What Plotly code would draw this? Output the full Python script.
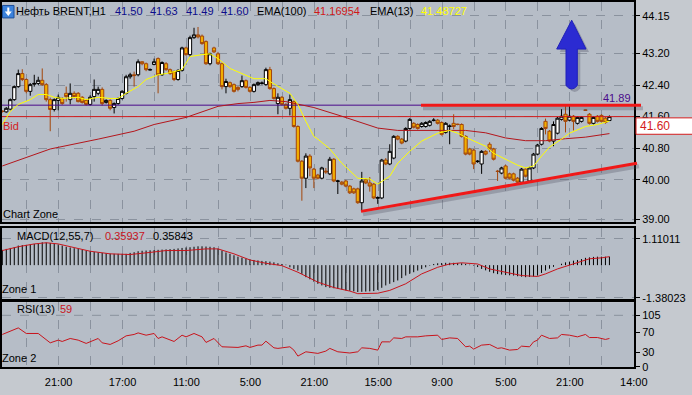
import plotly.graph_objects as go

# ---------------- data ----------------
opens = [41.74, 41.72, 41.79, 42.03, 42.36, 42.69, 42.54, 42.24, 42.42, 42.44,
         42.52, 42.41, 42.03, 41.78, 42.01, 42.06, 42.19, 42.03, 42.19, 42.19,
         42.09, 42.01, 41.91, 42.11, 42.19, 42.29, 41.96, 42.01, 41.83, 41.93,
         42.06, 42.19, 42.61, 42.66, 42.66, 42.99, 42.94, 42.78, 42.92, 43.07,
         42.66, 42.94, 42.79, 42.74, 42.54, 42.77, 43.34, 43.17, 43.60, 43.67,
         43.64, 43.50, 42.94, 43.34, 43.19, 42.94, 42.36, 42.46, 42.41, 42.34,
         42.36, 42.51, 42.34, 42.24, 42.41, 42.44, 42.41, 42.79, 42.31, 41.93,
         42.09, 41.91, 41.81, 41.98, 41.35, 40.47, 40.04, 40.60, 40.27, 40.12,
         40.04, 40.22, 40.15, 40.52, 39.96, 39.94, 39.97, 39.84, 39.77, 39.77,
         39.42, 40.00, 39.92, 39.89, 39.53, 39.54, 40.50, 40.40, 40.55, 41.10,
         41.03, 40.98, 41.30, 41.43, 41.40, 41.35, 41.35, 41.38, 41.50, 41.51,
         41.45, 41.20, 41.35, 41.43, 41.41, 41.40, 41.10, 40.78, 40.75, 40.46,
         40.40, 40.72, 40.90, 40.78, 40.22, 40.17, 40.35, 40.15, 40.15, 40.04,
         39.94, 40.27, 39.97, 40.30, 40.65, 40.90, 41.48, 41.23, 40.98, 41.18,
         41.53, 41.66, 41.51, 41.61, 41.43, 41.48, 41.77, 41.66, 41.43, 41.61,
         41.63, 41.56, 41.50]
highs = [41.76, 41.84, 42.06, 42.39, 42.79, 42.80, 42.57, 42.45, 42.66, 42.61,
         42.82, 42.45, 42.08, 42.06, 42.16, 42.09, 42.36, 42.44, 42.24, 42.22,
         42.12, 42.04, 42.14, 42.54, 42.36, 42.34, 42.04, 42.04, 41.96, 42.08,
         42.27, 42.66, 42.71, 42.74, 43.05, 43.00, 42.97, 42.82, 43.07, 43.10,
         43.00, 42.98, 42.82, 42.77, 42.80, 43.37, 43.37, 43.65, 43.85, 43.87,
         43.68, 43.53, 43.22, 43.37, 43.24, 42.97, 42.56, 42.49, 42.44, 42.37,
         42.64, 42.54, 42.37, 42.44, 42.49, 42.49, 42.84, 42.86, 42.34, 42.19,
         42.12, 41.94, 42.16, 42.01, 41.38, 40.50, 40.67, 40.65, 40.30, 40.15,
         40.33, 40.30, 40.58, 40.55, 40.00, 39.97, 40.00, 39.87, 39.80, 39.80,
         40.20, 40.03, 40.07, 39.92, 39.58, 40.53, 40.55, 40.90, 41.13, 41.13,
         41.06, 41.33, 41.56, 41.46, 41.43, 41.46, 41.48, 41.51, 41.56, 41.54,
         41.48, 41.46, 41.40, 41.66, 41.42, 41.43, 41.13, 40.81, 40.78, 40.50,
         40.75, 40.75, 40.95, 40.81, 40.25, 40.33, 40.38, 40.18, 40.18, 40.07,
         40.30, 40.30, 40.33, 40.68, 40.91, 41.33, 41.55, 41.26, 41.48, 41.59,
         41.79, 41.89, 41.89, 41.64, 41.61, 41.61, 41.78, 41.69, 41.61, 41.64,
         41.66, 41.59, 41.63]
lows = [41.70, 41.70, 41.76, 42.00, 42.33, 42.50, 42.19, 42.13, 42.36, 42.40,
        42.38, 41.98, 41.23, 41.73, 41.76, 41.90, 41.98, 41.91, 42.06, 41.96,
        41.93, 41.88, 41.88, 41.98, 42.14, 41.88, 41.93, 41.76, 41.68, 41.90,
        42.03, 42.16, 42.56, 42.36, 42.62, 42.90, 42.75, 42.77, 42.90, 42.19,
        42.63, 42.76, 42.66, 42.50, 42.51, 42.74, 43.14, 43.12, 43.57, 43.58,
        43.42, 42.91, 42.90, 43.21, 42.91, 42.29, 42.19, 42.33, 42.21, 42.24,
        42.33, 42.31, 42.21, 42.21, 42.38, 42.41, 42.38, 42.28, 42.03, 41.66,
        41.88, 41.78, 41.63, 41.32, 40.44, 39.47, 39.79, 40.09, 39.79, 40.01,
        40.01, 40.15, 40.12, 39.94, 39.64, 39.86, 39.81, 39.64, 39.64, 39.39,
        39.21, 39.89, 39.70, 39.51, 39.39, 39.51, 40.37, 40.37, 40.52, 41.00,
        40.90, 40.95, 41.27, 41.30, 41.27, 41.32, 41.32, 41.35, 41.48, 41.40,
        41.12, 41.17, 40.90, 41.28, 41.38, 41.07, 40.62, 40.62, 40.27, 40.43,
        40.15, 40.62, 40.70, 40.49, 39.97, 40.14, 40.01, 40.01, 39.96, 39.91,
        39.91, 40.06, 39.94, 40.27, 40.62, 40.87, 41.15, 40.95, 40.85, 41.15,
        41.50, 41.20, 41.48, 41.25, 41.40, 41.45, 41.75, 41.40, 41.40, 41.45,
        41.45, 41.42, 41.49]
closes = [41.73, 41.81, 42.03, 42.36, 42.69, 42.54, 42.24, 42.41, 42.44, 42.52,
          42.41, 42.03, 41.78, 42.03, 42.09, 41.93, 42.11, 42.19, 42.11, 41.98,
          41.96, 41.91, 42.09, 42.29, 42.29, 41.93, 42.01, 41.81, 41.93, 42.06,
          42.24, 42.61, 42.66, 42.64, 42.99, 42.94, 42.79, 42.79, 42.99, 42.66,
          42.97, 42.79, 42.69, 42.54, 42.77, 43.34, 43.17, 43.60, 43.67, 43.62,
          43.45, 42.94, 43.19, 43.24, 42.94, 42.36, 42.49, 42.36, 42.24, 42.29,
          42.51, 42.34, 42.24, 42.41, 42.46, 42.45, 42.79, 42.31, 42.06, 42.09,
          41.91, 41.81, 42.03, 41.35, 40.47, 40.04, 40.60, 40.30, 40.04, 40.04,
          40.30, 40.20, 40.52, 39.97, 39.97, 39.89, 39.84, 39.67, 39.67, 39.42,
          39.97, 39.92, 39.84, 39.54, 39.55, 40.50, 40.40, 40.72, 41.10, 41.03,
          40.93, 41.30, 41.53, 41.33, 41.30, 41.43, 41.45, 41.48, 41.51, 41.43,
          41.15, 41.43, 41.36, 41.35, 41.40, 41.10, 40.65, 40.65, 40.40, 40.47,
          40.72, 40.65, 40.78, 40.52, 40.21, 40.30, 40.04, 40.04, 39.99, 39.94,
          40.27, 40.09, 40.30, 40.65, 40.88, 41.30, 41.30, 40.98, 41.40, 41.56,
          41.61, 41.48, 41.61, 41.48, 41.58, 41.58, 41.76, 41.43, 41.58, 41.48,
          41.48, 41.45, 41.60]

ema13_idx = [0, 2, 4, 7, 9, 11, 13, 15, 19, 21, 24, 27, 29, 31, 34, 36, 39, 41, 45, 47,
             50, 52, 54, 57, 60, 63, 66, 67, 70, 72, 74, 76, 78, 79, 82, 85, 89, 92, 94, 97,
             99, 102, 105, 109, 112, 114, 117, 121, 123, 126, 129, 131, 133, 135, 137, 140, 142, 146, 149, 152]
ema13_val = [41.40, 41.73, 41.91, 42.03, 42.16, 42.16, 42.09, 42.06, 42.09, 42.03,
             42.09, 42.06, 42.06, 42.19, 42.36, 42.54, 42.66, 42.69, 42.79, 43.12,
             43.17, 43.19, 43.07, 42.82, 42.69, 42.56, 42.56, 42.49, 42.31, 42.19,
             41.91, 41.48, 41.10, 41.03, 40.78, 40.42, 40.04, 40.02, 39.89, 40.09,
             40.42, 40.72, 40.98, 41.18, 41.25, 41.18, 41.03, 40.85, 40.67, 40.52,
             40.37, 40.30, 40.35, 40.60, 40.83, 41.03, 41.18, 41.35, 41.40, 41.49]

ema100_idx = [0, 12, 24, 33, 38, 46, 54, 59, 63, 67, 71, 76, 78, 85, 94, 99, 104, 110,
              116, 121, 126, 131, 136, 141, 146, 152]
ema100_val = [40.35, 40.78, 41.03, 41.23, 41.40, 41.58, 41.86, 41.93, 41.96, 42.01,
              41.98, 41.88, 41.83, 41.61, 41.31, 41.25, 41.25, 41.25, 41.25, 41.19,
              41.06, 40.99, 40.99, 41.04, 41.08, 41.17]

macd_hist = [0.65, 0.69, 0.73, 0.77, 0.83,
             0.85, 0.86, 0.88, 0.90, 0.93, 0.97,
             0.96, 0.94, 0.92, 0.88, 0.83, 0.78,
             0.75, 0.72, 0.69, 0.65, 0.62, 0.59, 0.56, 0.54,
             0.52, 0.50, 0.49, 0.48, 0.48, 0.48, 0.48,
             0.52, 0.55, 0.59, 0.61, 0.62, 0.63, 0.64, 0.65,
             0.66, 0.67, 0.68, 0.69, 0.71, 0.73, 0.75, 0.76, 0.78, 0.80,
             0.80, 0.79, 0.78, 0.76, 0.70, 0.62, 0.54,
             0.48, 0.42, 0.36, 0.32, 0.28, 0.25, 0.22,
             0.20, 0.18, 0.17, 0.15, 0.12, 0.08, 0.05, 0.02, -0.09,
             -0.16, -0.23, -0.37, -0.51, -0.60, -0.70, -0.79, -0.86,
             -0.93, -0.96, -0.98, -1.00, -1.03, -1.07, -1.09, -1.11, -1.14,
             -1.13, -1.12, -1.11, -1.10, -1.05, -0.96, -0.86,
             -0.79, -0.72, -0.65, -0.55, -0.44, -0.37, -0.30, -0.23,
             -0.16, -0.09, -0.02, 0.05, 0.08, 0.09, 0.10, 0.10,
             0.10, 0.09, 0.08, 0.05, 0.02, -0.02, -0.08,
             -0.16, -0.22, -0.28, -0.34, -0.38, -0.40, -0.42, -0.43, -0.44,
             -0.47, -0.49, -0.51, -0.50, -0.48, -0.44, -0.33,
             -0.23, -0.15, -0.07, 0.00, 0.06, 0.12, 0.15, 0.19,
             0.22, 0.26, 0.31, 0.33, 0.35, 0.36, 0.36, 0.36, 0.36]

macd_sig_idx = [0, 4, 8, 11, 14, 18, 22, 27, 32, 37, 41, 46, 51, 54, 58, 62, 66, 70, 74, 79,
                83, 87, 89, 94, 97, 101, 105, 109, 112, 115, 119, 122, 126, 130, 134, 136,
                139, 143, 147, 150, 152]
macd_sig_val = [0.62, 0.78, 0.90, 0.95, 0.90, 0.73, 0.59, 0.48, 0.45, 0.54,
                0.62, 0.62, 0.69, 0.69, 0.48, 0.22, 0.08, -0.02, -0.30, -0.72,
                -0.95, -1.10, -1.21, -1.19, -1.07, -0.79, -0.37, -0.09, 0.05, 0.10,
                0.05, -0.16, -0.30, -0.44, -0.48, -0.37, -0.16, 0.05, 0.27, 0.31, 0.36]

rsi_idx = [0, 2, 4, 6, 9, 12, 14, 15, 17, 19, 21, 24, 25, 27, 29, 31, 33, 34, 36, 38,
           39, 40, 43, 45, 46, 48, 50, 51, 53, 55, 58, 59, 61, 62, 64, 65, 66, 68, 69, 72,
           73, 74, 76, 77, 79, 81, 82, 84, 87, 89, 90, 92, 94, 95, 97, 98, 100, 101, 104, 106,
           109, 110, 112, 114, 116, 117, 118, 120, 122, 124, 125, 127, 129, 130, 132, 133,
           134, 135, 137, 139, 140, 142, 144, 146, 147, 149, 151, 152]
rsi_val = [65.9, 72.6, 79.3, 67.9, 67.9, 48.8, 54.3, 51.6, 57.7, 54.3,
           47.6, 57.7, 48.8, 45.5, 52.9, 63.0, 65.9, 69.1, 64.4, 67.9,
           57.7, 61.0, 51.6, 64.4, 61.0, 67.9, 61.0, 49.6, 57.7, 40.7,
           40.7, 39.4, 42.7, 39.4, 44.1, 44.1, 52.2, 38.6, 37.4, 40.7,
           33.9, 21.7, 30.5, 29.3, 27.2, 31.9, 37.4, 30.5, 28.0, 30.5,
           38.6, 37.4, 33.9, 50.8, 50.8, 58.9, 57.7, 61.0, 61.0, 63.0,
           64.4, 55.7, 58.9, 57.7, 40.7, 42.0, 36.0, 44.1, 45.5, 37.4,
           38.6, 33.9, 35.2, 42.0, 40.7, 50.8, 54.3, 64.4, 57.7, 58.9,
           65.9, 64.4, 61.0, 65.9, 59.6, 59.6, 55.7, 57.7]

bid_price = 41.60
level_price = 41.89
trend_prices = [39.20, 40.42]          # start / end of the support trend line

price_ticks = [39.00, 40.00, 40.80, 41.60, 42.40, 43.20, 44.15]
macd_ticks = [1.11011, -1.38023]
rsi_ticks = [0, 30, 70, 105]
x_labels = ["21:00", "17:00", "11:00", "5:00", "21:00", "15:00", "9:00", "5:00", "21:00", "14:00"]

header_ohlc = ["41.50", "41.63", "41.49", "41.60"]

# ---------------- figure ----------------
FONT = "Liberation Sans, Arial, sans-serif"
W, H = 692, 395
ML, MR, MT, MB = 2, 58, 0, 28
PW, PH = W - ML - MR, H - MT - MB


def px(x):   # pixel -> paper x (decoration placement)
    return (x - ML) / PW


def py(y):   # pixel -> paper y
    return (H - MB - y) / PH


idx = list(range(len(closes)))
x_lo, x_hi = -0.075, 158.15
grid_k = [6.1 + 8 * j for j in range(20)]

fig = go.Figure()

# horizontal price lines
fig.add_trace(go.Scatter(x=[x_lo, x_hi], y=[level_price] * 2, mode="lines",
                         line=dict(color="#4a0a8a", width=1), hoverinfo="skip"))
fig.add_trace(go.Scatter(x=[x_lo, x_hi], y=[bid_price] * 2, mode="lines",
                         line=dict(color="#d41c1c", width=1), hoverinfo="skip"))

fig.add_trace(go.Candlestick(
    x=idx, open=opens, high=highs, low=lows, close=closes,
    increasing=dict(line=dict(color="#000000", width=1), fillcolor="#ffffff"),
    decreasing=dict(line=dict(color="#a3470c", width=1), fillcolor="#f2ae00"),
    whiskerwidth=0, hoverinfo="skip", xaxis="x", yaxis="y"))

fig.add_trace(go.Scatter(x=ema100_idx, y=ema100_val, mode="lines",
                         line=dict(color="#b3161c", width=1), hoverinfo="skip"))
fig.add_trace(go.Scatter(x=ema13_idx, y=ema13_val, mode="lines",
                         line=dict(color="#ffff00", width=1), hoverinfo="skip"))

# MACD histogram as thin vertical bars
hx, hy = [], []
for k, v in zip(idx, macd_hist):
    hx += [k, k, None]
    hy += [0, v, None]
fig.add_trace(go.Scatter(x=hx, y=hy, mode="lines", line=dict(color="#000000", width=1),
                         xaxis="x2", yaxis="y2", hoverinfo="skip"))
fig.add_trace(go.Scatter(x=macd_sig_idx, y=macd_sig_val, mode="lines",
                         line=dict(color="#c8141c", width=1), xaxis="x2", yaxis="y2",
                         hoverinfo="skip"))

# RSI
fig.add_trace(go.Scatter(x=rsi_idx, y=rsi_val, mode="lines",
                         line=dict(color="#c8141c", width=1), xaxis="x3", yaxis="y3",
                         hoverinfo="skip"))

grid_color = "#8a929e"
ticktext = [x_labels[j // 2] if j % 2 == 1 else "" for j in range(20)]
xcommon = dict(range=[x_lo, x_hi], showgrid=True, gridcolor=grid_color, griddash="dash",
               gridwidth=1, tickmode="array", tickvals=grid_k, ticktext=ticktext,
               showline=True, linecolor="#000000", linewidth=2, mirror=True,
               zeroline=False, ticks="", fixedrange=True)
ycommon = dict(side="right", showline=True, linecolor="#000000", linewidth=2, mirror=True,
               zeroline=False, ticks="outside", ticklen=4, tickwidth=1, tickcolor="#000000",
               tickfont=dict(family=FONT, size=11, color="#000000"),
               gridcolor=grid_color, griddash="dash", gridwidth=1, fixedrange=True)

macd_top, macd_bot = 227, 298.5
rsi_top = 302

fig.update_layout(
    width=W, height=H,
    margin=dict(l=ML, r=MR, t=MT, b=MB),
    paper_bgcolor="#c5c9cf", plot_bgcolor="#b6bdc7",
    showlegend=False, hovermode=False,
    boxgap=0.2, boxgroupgap=0,
    xaxis=dict(xcommon, anchor="y", showticklabels=False, rangeslider=dict(visible=False)),
    xaxis2=dict(xcommon, anchor="y2", matches="x", showticklabels=False),
    xaxis3=dict(xcommon, anchor="y3", matches="x", showticklabels=True,
                tickfont=dict(family=FONT, size=11, color="#000000"), ticklabelstandoff=4),
    yaxis=dict(ycommon, anchor="x", domain=[py(221), 1], range=[38.936, 44.503],
               tickvals=price_ticks, ticktext=[f"{t:.2f}" for t in price_ticks], showgrid=True),
    yaxis2=dict(ycommon, anchor="x2", domain=[py(macd_bot), py(macd_top)], range=[-1.43, 1.586],
                tickvals=macd_ticks, ticktext=[f"{t:.5f}" for t in macd_ticks], showgrid=True),
    yaxis3=dict(ycommon, anchor="x3", domain=[0, py(rsi_top)], range=[-0.6, 131.5],
                tickvals=rsi_ticks, ticktext=[str(t) for t in rsi_ticks], showgrid=False),
)

shapes = []
# RSI 105 dashed level
shapes.append(dict(type="line", xref="paper", x0=0, x1=1, yref="y3", y0=105, y1=105,
                   line=dict(color=grid_color, width=1, dash="dash"), layer="below"))

# shadows of the drawn lines
sh = 3 * (44.503 - 38.936) / 221
shapes.append(dict(type="line", xref="paper", x0=px(423), x1=px(643), yref="y",
                   y0=level_price - sh, y1=level_price - sh,
                   line=dict(color="rgba(70,70,85,0.28)", width=4), layer="above"))
shapes.append(dict(type="line", xref="paper", x0=px(363), x1=px(639), yref="y",
                   y0=trend_prices[0] - sh, y1=trend_prices[1] - sh,
                   line=dict(color="rgba(70,70,85,0.28)", width=4), layer="above"))
# thick red resistance / support lines
shapes.append(dict(type="line", xref="paper", x0=px(421), x1=px(641), yref="y",
                   y0=level_price, y1=level_price,
                   line=dict(color="#f01818", width=3), layer="above"))
shapes.append(dict(type="line", xref="paper", x0=px(361), x1=px(637), yref="y",
                   y0=trend_prices[0], y1=trend_prices[1],
                   line=dict(color="#f01818", width=3), layer="above"))


def arrow_path(dx=0, dy=0):
    s = f"M {px(571.7+dx)},{py(18.3+dy)} L {px(586+dx)},{py(47.3+dy)} L {px(577.3+dx)},{py(47.3+dy)} "
    s += f"L {px(577.3+dx)},{py(84+dy)} Q {px(571.7+dx)},{py(91+dy)} {px(566+dx)},{py(84+dy)} "
    s += f"L {px(566+dx)},{py(47.3+dy)} L {px(556.7+dx)},{py(47.3+dy)} Z"
    return s


shapes.append(dict(type="path", xref="paper", yref="paper", path=arrow_path(3, 3),
                   fillcolor="rgba(70,70,90,0.30)", line=dict(width=0), layer="above"))
shapes.append(dict(type="path", xref="paper", yref="paper", path=arrow_path(),
                   fillcolor="#2b2bd2", line=dict(color="#2020b8", width=1), layer="above"))

# bid price box on the axis
shapes.append(dict(type="rect", xref="paper", yref="paper", x0=px(636), x1=px(700),
                   y0=py(133), y1=py(116.5), fillcolor="#ffffff",
                   line=dict(color="#d41c1c", width=1), layer="above"))

# header icon
shapes.append(dict(type="rect", xref="paper", yref="paper", x0=px(2.5), x1=px(14),
                   y0=py(16), y1=py(3.5), fillcolor="#3b82dc",
                   line=dict(color="#1d4f9a", width=1), layer="above"))
shapes.append(dict(type="path", xref="paper", yref="paper",
                   path=(f"M {px(7.3)},{py(5.5)} L {px(9.3)},{py(5.5)} L {px(9.3)},{py(9.5)} "
                         f"L {px(11.8)},{py(9.5)} L {px(8.3)},{py(14)} L {px(4.8)},{py(9.5)} "
                         f"L {px(7.3)},{py(9.5)} Z"),
                   fillcolor="#ffffff", line=dict(width=0), layer="above"))
fig.update_layout(shapes=shapes)

ann = []


def text(x, y, s, color="#000000", anchor="left", size=11):
    ann.append(dict(xref="paper", yref="paper", x=px(x), y=py(y), text=s, showarrow=False,
                    xanchor=anchor, yanchor="middle", borderpad=0,
                    font=dict(family=FONT, size=size, color=color)))


text(15, 9, "Нефть BRENT,H1")
for xpos, val in zip([114, 149, 185, 220], header_ohlc):
    text(xpos, 9, val, "#0c0c8a")
text(256, 9, "EMA(100)")
text(313, 9, "41.16954", "#d01818")
text(369, 9, "EMA(13)")
text(420, 9, "41.48727", "#ffff00")
text(2, 125, "Bid", "#d41c1c")
text(632, 97, "41.89", "#4a0a8a", anchor="right")
text(639, 125, "41.60", "#d41c1c", size=12)
text(2, 213, "Chart Zone")
text(16, 235, "MACD(12,55,7)")
text(104, 235, "0.35937", "#c8141c")
text(152, 235, "0.35843")
text(1, 289, "Zone 1")
text(16, 309, "RSI(13)")
text(59, 309, "59", "#c8141c")
text(1, 358, "Zone 2")
fig.update_layout(annotations=ann)

fig.write_html("out.html", config={"displayModeBar": False, "staticPlot": True})
# remove the browser's default page margin so the figure sits at the window origin
with open("out.html", encoding="utf-8") as f:
    html = f.read()
html = html.replace("<head>", "<head><style>html,body{margin:0;padding:0;overflow:hidden;}</style>", 1)
with open("out.html", "w", encoding="utf-8") as f:
    f.write(html)
